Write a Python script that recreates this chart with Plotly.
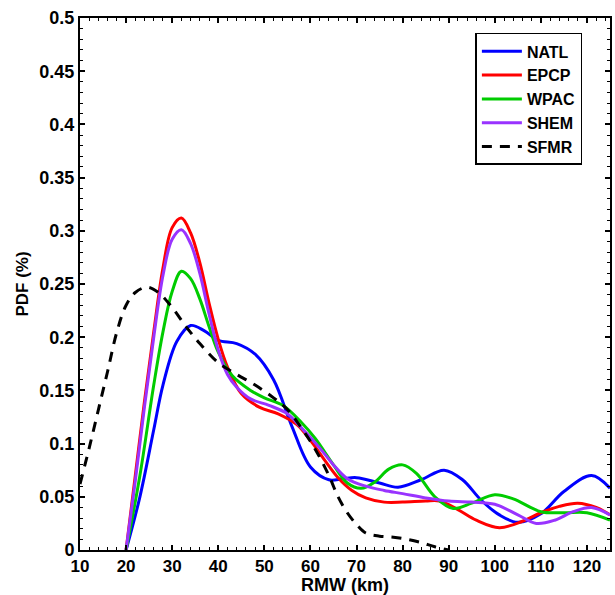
import plotly.graph_objects as go

natl_x = [20, 23, 26, 28, 31, 34, 37, 40, 44, 48, 52, 56, 60, 64, 67, 70, 75, 79, 84, 89, 93, 97, 101, 105, 110, 115, 121, 125]
natl_y = [0, 0.05, 0.113, 0.155, 0.196, 0.211, 0.206, 0.197, 0.194, 0.184, 0.160, 0.116, 0.078, 0.066, 0.067, 0.068, 0.063, 0.059, 0.066, 0.075, 0.066, 0.047, 0.033, 0.026, 0.034, 0.055, 0.070, 0.058]

epcp_x = [20, 22, 24, 26, 28, 30, 32, 34, 36, 38, 40, 42, 45, 49, 53, 57, 60, 63, 66, 69, 72, 76, 80, 85, 88, 92, 96, 101, 106, 110, 114, 118, 122, 125]
epcp_y = [0, 0.07, 0.14, 0.205, 0.265, 0.303, 0.312, 0.298, 0.27, 0.232, 0.198, 0.172, 0.147, 0.134, 0.128, 0.118, 0.103, 0.085, 0.068, 0.056, 0.049, 0.045, 0.045, 0.046, 0.046, 0.038, 0.028, 0.021, 0.027, 0.035, 0.041, 0.044, 0.040, 0.033]

wpac_x = [20, 23, 26, 28, 30, 32, 34, 36, 38, 40, 43, 47, 50, 54, 58, 61, 65, 68, 71, 74, 77, 80, 83, 87, 91, 95, 100, 104, 110, 115, 120, 125]
wpac_y = [0, 0.07, 0.155, 0.205, 0.243, 0.262, 0.255, 0.236, 0.21, 0.186, 0.164, 0.150, 0.143, 0.136, 0.120, 0.105, 0.080, 0.063, 0.058, 0.064, 0.076, 0.080, 0.072, 0.050, 0.039, 0.044, 0.052, 0.048, 0.036, 0.035, 0.035, 0.028]

shem_x = [20, 22, 24, 26, 28, 30, 32, 34, 36, 38, 40, 42, 44, 47, 51, 55, 58, 62, 65, 68, 72, 76, 80, 85, 90, 95, 100, 105, 109, 113, 117, 121, 125]
shem_y = [0, 0.065, 0.135, 0.2, 0.258, 0.292, 0.301, 0.288, 0.26, 0.222, 0.188, 0.165, 0.153, 0.142, 0.136, 0.128, 0.115, 0.096, 0.080, 0.067, 0.060, 0.056, 0.053, 0.049, 0.046, 0.045, 0.043, 0.033, 0.025, 0.028, 0.036, 0.040, 0.033]

sfmr_x = [10, 12, 14, 16, 18, 20, 22, 24.5, 27, 30, 33, 36, 40, 44, 48, 52, 55, 58, 61, 64, 66, 68, 70, 72, 75, 78, 81, 84, 87, 90]
sfmr_y = [0.062, 0.096, 0.132, 0.168, 0.205, 0.230, 0.242, 0.247, 0.242, 0.228, 0.210, 0.194, 0.176, 0.165, 0.155, 0.143, 0.132, 0.115, 0.095, 0.070, 0.050, 0.035, 0.024, 0.016, 0.013, 0.012, 0.010, 0.007, 0.003, 0.0]

series = [
    ("NATL", natl_x, natl_y, "#0000ff", "solid"),
    ("EPCP", epcp_x, epcp_y, "#ff0000", "solid"),
    ("WPAC", wpac_x, wpac_y, "#00cc00", "solid"),
    ("SHEM", shem_x, shem_y, "#9933ff", "solid"),
    ("SFMR", sfmr_x, sfmr_y, "#000000", "10px,8px"),
]

fig = go.Figure()
for name, xs, ys, col, dash in series:
    fig.add_trace(go.Scatter(x=xs, y=ys, mode="lines", name=name,
                             line=dict(color=col, width=3, dash=dash, shape="spline", smoothing=1.0)))

font_b = "Liberation Sans"
fig.update_layout(
    width=615, height=595,
    margin=dict(l=80, r=3, t=18, b=45),
    plot_bgcolor="white", paper_bgcolor="white",
    font=dict(family=font_b, size=16, color="black"),
    showlegend=True,
    legend=dict(x=0.746, y=0.972, xanchor="left", yanchor="top",
                bgcolor="white", bordercolor="black", borderwidth=1.5,
                font=dict(family=font_b, size=16, color="black", weight="bold"),
                tracegroupgap=0, itemwidth=40),
)
fig.update_xaxes(range=[10, 125], tickmode="linear", tick0=10, dtick=10,
                 ticks="inside", ticklen=5, tickwidth=1.5, tickcolor="black",
                 minor=dict(ticks="inside", dtick=2, ticklen=3, tickcolor="black", tickwidth=1),
                 showline=True, linecolor="black", linewidth=2, mirror="ticks",
                 showgrid=False, zeroline=False, ticklabelstandoff=0,
                 tickfont=dict(family=font_b, size=17, weight="bold"),
                 title=dict(text="RMW (km)", font=dict(family=font_b, size=18, weight="bold"), standoff=0))
fig.update_yaxes(range=[0, 0.5], tickmode="linear", tick0=0, dtick=0.05,
                 ticks="inside", ticklen=5, tickwidth=1.5, tickcolor="black",
                 minor=dict(ticks="inside", dtick=0.01, ticklen=3, tickcolor="black", tickwidth=1),
                 showline=True, linecolor="black", linewidth=2, mirror="ticks",
                 showgrid=False, zeroline=False,
                 tickfont=dict(family=font_b, size=18, weight="bold"),
                 title=dict(text="PDF (%)", font=dict(family=font_b, size=17, weight="bold"), standoff=6))

fig.write_html("out.html")
